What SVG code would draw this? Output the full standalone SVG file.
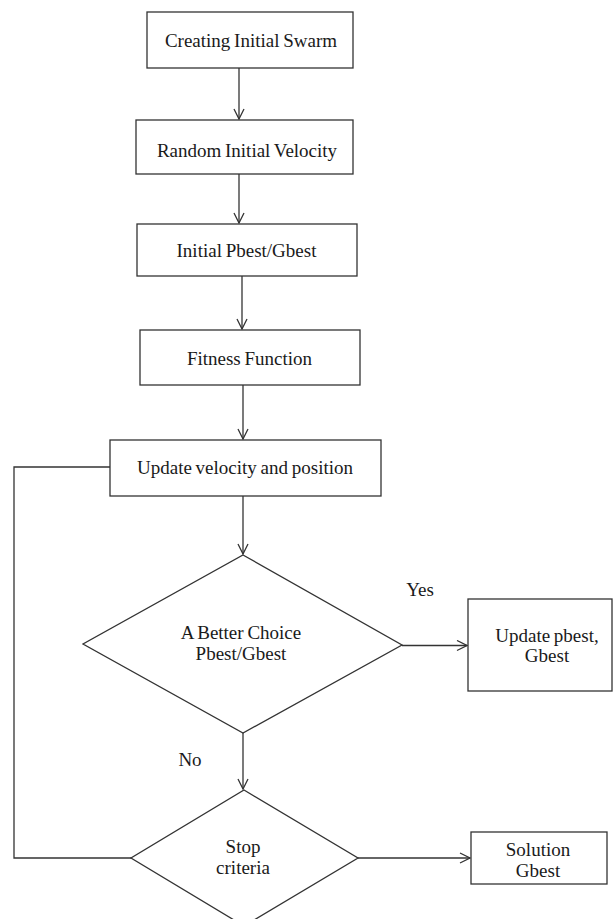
<svg xmlns="http://www.w3.org/2000/svg" width="613" height="919" viewBox="0 0 613 919">
<defs>
<marker id="arr" viewBox="0 0 12 12" refX="11" refY="6" markerWidth="12" markerHeight="12" markerUnits="userSpaceOnUse" orient="auto">
<path d="M1,1 L11,6 L1,11" fill="none" stroke="#333" stroke-width="1.3"/>
</marker>
<style>
.box{fill:#fff;stroke:#333;stroke-width:1.3}
.ln{fill:none;stroke:#333;stroke-width:1.3}
.t{font-size:19px;fill:#1a1a1a;text-anchor:middle;word-spacing:-1px}
</style>
</defs>
<rect width="613" height="919" fill="#fff"/>
<g id="connectors">
<line class="ln" x1="239" y1="68" x2="239" y2="119" marker-end="url(#arr)"/>
<line class="ln" x1="239" y1="174" x2="239" y2="223" marker-end="url(#arr)"/>
<line class="ln" x1="242" y1="276" x2="242" y2="329" marker-end="url(#arr)"/>
<line class="ln" x1="243" y1="385" x2="243" y2="439" marker-end="url(#arr)"/>
<line class="ln" x1="243" y1="496" x2="243" y2="554" marker-end="url(#arr)"/>
<line class="ln" x1="402" y1="645.5" x2="467" y2="645.5" marker-end="url(#arr)"/>
<line class="ln" x1="243" y1="733" x2="243" y2="789" marker-end="url(#arr)"/>
<line class="ln" x1="358" y1="858" x2="470" y2="858" marker-end="url(#arr)"/>
<polyline class="ln" points="110,467 14,467 14,858 131,858"/>
</g>
<g font-family="Liberation Serif, serif">
<g id="n1"><rect class="box" x="147" y="12" width="206" height="56"/><text class="t" x="251" y="47">Creating Initial Swarm</text></g>
<g id="n2"><rect class="box" x="136" y="120" width="217" height="54"/><text class="t" x="247" y="157">Random Initial Velocity</text></g>
<g id="n3"><rect class="box" x="137" y="224" width="220" height="52"/><text class="t" x="246.5" y="257">Initial Pbest/Gbest</text></g>
<g id="n4"><rect class="box" x="140" y="330" width="220" height="55"/><text class="t" x="249.5" y="365">Fitness Function</text></g>
<g id="n5"><rect class="box" x="110" y="440" width="271" height="56"/><text class="t" x="245" y="474">Update velocity and position</text></g>
<g id="d1"><polygon class="box" points="243,555 402,645 243,733 83,644"/><text class="t" x="241" y="639">A Better Choice</text><text class="t" x="241" y="660">Pbest/Gbest</text></g>
<g id="n6"><rect class="box" x="468" y="599" width="144" height="92"/><text class="t" x="547" y="642">Update pbest,</text><text class="t" x="547" y="662">Gbest</text></g>
<g id="d2"><polygon class="box" points="244,790 358,858 244,926 131,858"/><text class="t" x="243" y="853">Stop</text><text class="t" x="243" y="874">criteria</text></g>
<g id="n7"><rect class="box" x="471" y="832" width="136" height="52"/><text class="t" x="538" y="856">Solution</text><text class="t" x="538" y="877">Gbest</text></g>
<g id="labels"><text class="t" x="420" y="596">Yes</text><text class="t" x="190" y="766">No</text></g>
</g>
</svg>
